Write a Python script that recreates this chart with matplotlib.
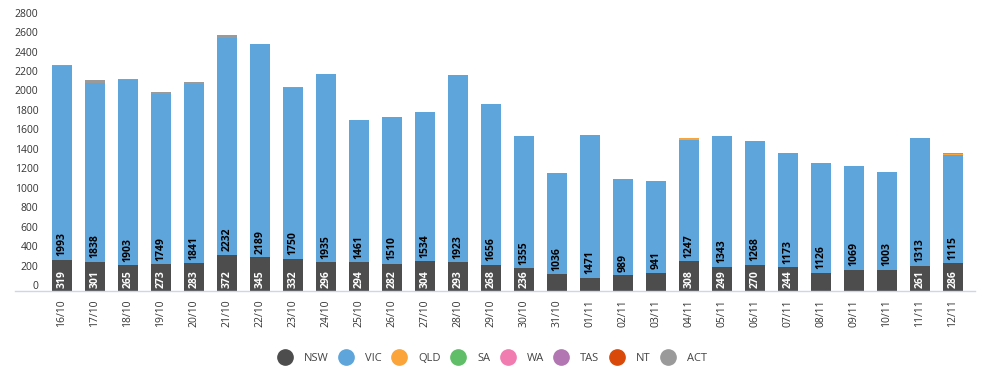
import numpy as np
import matplotlib
matplotlib.use('Agg')
import matplotlib.pyplot as plt
from matplotlib.lines import Line2D
from matplotlib.transforms import ScaledTranslation

plt.rcParams['font.family'] = ['Open Sans', 'DejaVu Sans']

dates = ['16/10', '17/10', '18/10', '19/10', '20/10', '21/10', '22/10', '23/10',
         '24/10', '25/10', '26/10', '27/10', '28/10', '29/10', '30/10', '31/10',
         '01/11', '02/11', '03/11', '04/11', '05/11', '06/11', '07/11', '08/11',
         '09/11', '10/11', '11/11', '12/11']

nsw = [319, 301, 265, 273, 283, 372, 345, 332, 296, 294, 282, 304, 293, 268,
       236, 175, 137, 164, 188, 308, 249, 270, 244, 188, 219, 219, 261, 286]
vic = [1993, 1838, 1903, 1749, 1841, 2232, 2189, 1750, 1935, 1461, 1510, 1534,
       1923, 1656, 1355, 1036, 1471, 989, 941, 1247, 1343, 1268, 1173, 1126,
       1069, 1003, 1313, 1115]
qld = [0, 0, 0, 0, 0, 0, 0, 0, 0, 0, 0, 0, 0, 0,
       0, 0, 0, 0, 0, 14, 0, 0, 0, 0, 0, 0, 0, 5]
sa = [0] * 28
wa = [0] * 28
tas = [0] * 28
nt = [0] * 28
act = [15, 35, 15, 20, 20, 25, 0, 20, 0, 0, 0, 0, 0, 0,
       0, 0, 0, 0, 0, 0, 0, 0, 0, 0, 0, 0, 0, 14]

# NSW labels that the original chart hides (they collide with VIC labels)
nsw_hidden = ['31/10', '01/11', '02/11', '03/11', '08/11', '09/11', '10/11']

states = ['NSW', 'VIC', 'QLD', 'SA', 'WA', 'TAS', 'NT', 'ACT']
series = [nsw, vic, qld, sa, wa, tas, nt, act]
colors = ['#4D4D4D', '#5DA5DA', '#FAA43A', '#60BD68', '#F17CB0', '#B276B2',
          '#D94A0A', '#9A9A9A']

fig = plt.figure(figsize=(9.81, 3.79), dpi=100)
ax = fig.add_axes([45.5 / 981, 88 / 379, 924 / 981, 272.4 / 379])

x = np.arange(len(dates))
bottom = np.zeros(len(dates))
for vals, c in zip(series, colors):
    ax.bar(x, vals, width=0.6, bottom=bottom, color=c, linewidth=0)
    bottom += np.array(vals)

# data labels
for i, d in enumerate(dates):
    if d not in nsw_hidden:
        ax.annotate(str(nsw[i]), (x[i], 0), xytext=(0, 2.5), textcoords='offset points',
                    rotation=90, ha='center', va='bottom', color='white',
                    fontsize=7.5, fontweight='bold')
    ax.annotate(str(vic[i]), (x[i], nsw[i]), xytext=(0, 2.5), textcoords='offset points',
                rotation=90, ha='center', va='bottom', color='black',
                fontsize=7.5, fontweight='bold')

ax.set_xlim(-0.5, len(dates) - 0.5)
ax.set_ylim(0, 2800)
ax.set_yticks(np.arange(0, 2801, 200))
ax.set_xticks(x)
ax.set_xticklabels(dates, rotation=90)
ax.tick_params(axis='both', length=0, labelsize=7.5, labelcolor='#333333')
ax.tick_params(axis='x', pad=6)
ax.tick_params(axis='y', pad=5)
for lab in ax.get_yticklabels():
    lab.set_transform(lab.get_transform() + ScaledTranslation(0, 6 / 100, fig.dpi_scale_trans))

for s in ax.spines.values():
    s.set_visible(False)
ax.axhline(0, xmin=-0.033, xmax=1.006, color='#ccd6eb', linewidth=1, clip_on=False)

handles = [Line2D([], [], marker='o', linestyle='', markersize=11,
                  markerfacecolor=c, markeredgecolor=c) for c in colors]
leg = fig.legend(handles, states, loc='center', bbox_to_anchor=(0.5026, 0.055),
                 ncol=8, frameon=False, fontsize=8, handlelength=1.0,
                 handletextpad=1.2, columnspacing=1.08)
for t in leg.get_texts():
    t.set_color('#444444')

fig.savefig('out.png', dpi=100)
